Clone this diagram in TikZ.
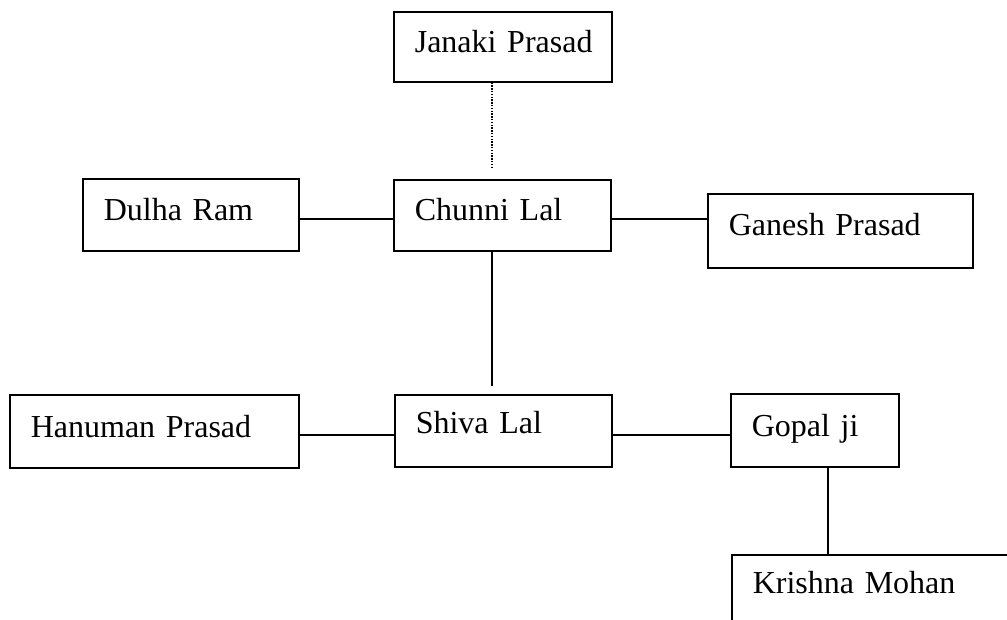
\documentclass[tikz,border=0pt]{standalone}
\usepackage{fontspec}
\setmainfont{Liberation Serif}
\begin{document}
\begin{tikzpicture}[x=1pt,y=-1pt,
  fam/.style n args={4}{draw, line width=1.6pt, anchor=north west, inner xsep=21pt, inner ysep=0pt,
    text width=#1pt-42pt, minimum height=#2pt, text height=#3pt, text depth=#4pt, align=left,
    font=\fontsize{32}{38}\selectfont,
    execute at begin node={\leavevmode\hbox\bgroup}, execute at end node={\egroup}},
  link/.style={line width=1.5pt},
  dots/.style={line width=1.4pt, dash pattern=on 1.4pt off 1.4pt}]
\useasboundingbox (0,0) rectangle (1007,620);
\begin{scope}
\clip (0,0) rectangle (1007,620);
\node[fam={218}{70}{22}{10}]  (jan) at (393,11)  {Janaki Prasad};
\node[fam={217}{71}{22}{11}]  (chu) at (393,179) {Chunni Lal};
\node[fam={216}{72}{22}{10}]  (dul) at (82,178)  {Dulha Ram};
\node[fam={265}{74}{22}{12}]  (gan) at (707,193) {Ganesh Prasad};
\node[fam={289}{73}{22}{9}]   (han) at (9,394)   {Hanuman Prasad};
\node[fam={217}{72}{22}{16}]  (shi) at (394,394) {Shiva Lal};
\node[fam={168}{73}{22}{9}]   (gop) at (730,393) {Gopal ji};
\node[fam={300}{126}{22}{70}] (kri) at (731,554) {Krishna Mohan};

\draw[dots] ([xshift=-11pt]jan.south) -- ([xshift=-10.5pt,yshift=10pt]chu.north);
\draw[link] ([xshift=-10.5pt]chu.south) -- ([xshift=-11.5pt,yshift=8pt]shi.north);
\draw[link] ([yshift=-4pt]dul.east) -- ([yshift=-4pt]dul.east -| chu.west);
\draw[link] ([yshift=-3.5pt]chu.east) -- ([yshift=-3.5pt]chu.east -| gan.west);
\draw[link] ([yshift=-3.5pt]han.east) -- ([yshift=-3.5pt]han.east -| shi.west);
\draw[link] ([yshift=-4pt]shi.east) -- ([yshift=-4pt]shi.east -| gop.west);
\draw[link] ([xshift=13pt]gop.south) -- ([xshift=13pt]gop.south |- kri.north);
\end{scope}
\end{tikzpicture}
\end{document}
